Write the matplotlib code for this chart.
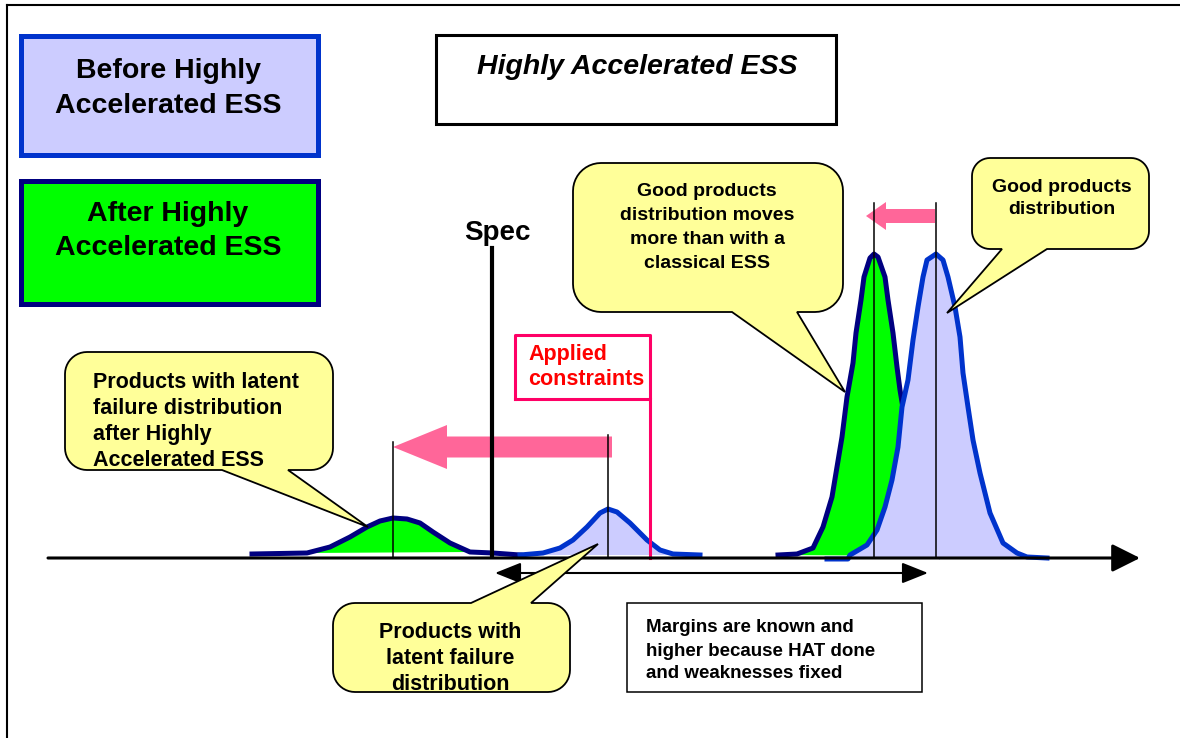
import numpy as np
import matplotlib
matplotlib.use("Agg")
import matplotlib.pyplot as plt
from matplotlib.patches import Rectangle, Polygon, FancyArrow

plt.rcParams['font.family'] = ['Liberation Sans', 'DejaVu Sans']

good_after_x = [778, 797, 813, 823, 832, 837, 842, 847, 853, 856, 861, 864, 870, 874,
                878, 885, 888, 893, 897, 900, 905, 915, 925, 940]
good_after_y = [555, 554, 548, 527, 497, 467, 437, 397, 363, 333, 300, 277, 258, 254,
                257, 277, 300, 333, 367, 390, 420, 480, 530, 556]

good_before_x = [827, 848, 850, 867, 877, 885, 892, 898, 902, 908, 913, 918, 923, 927,
                 936, 943, 948, 955, 960, 963, 968, 973, 980, 990, 1003, 1017, 1027, 1047]
good_before_y = [559, 559, 555, 545, 530, 507, 480, 447, 407, 380, 340, 307, 277, 260,
                 254, 260, 277, 307, 337, 373, 407, 440, 473, 513, 543, 553, 557, 558]

bad_after_x = [252, 307, 330, 350, 367, 380, 393, 407, 420, 433, 450, 470, 493, 520]
bad_after_y = [554, 553, 547, 537, 527, 521, 518, 519, 523, 532, 543, 552, 553, 555]

bad_before_x = [520, 543, 560, 573, 587, 600, 608, 617, 630, 647, 660, 673, 700]
bad_before_y = [555, 553, 548, 540, 527, 513, 509, 512, 523, 540, 550, 554, 555]

legend_labels = ["Before Highly\nAccelerated ESS", "After Highly\nAccelerated ESS"]
title_text = "Highly Accelerated ESS"
callout_texts = {
    'left': "Products with latent\nfailure distribution\nafter Highly\nAccelerated ESS",
    'bottom': "Products with\nlatent failure\ndistribution",
    'middle': "Good products\ndistribution moves\nmore than with a\nclassical ESS",
    'right': "Good products\ndistribution",
}
margin_text = "Margins are known and\nhigher because HAT done\nand weaknesses fixed"
constraint_text = "Applied\nconstraints"

LAV = '#CCCCFF'
BLUE = '#0033CC'
NAVY = '#000080'
GREEN = '#00FF00'
PINK = '#FF6699'
YEL = '#FFFF99'


def lines(ax, txt, x, y0, dy, ha='center', **kw):
    for i, s in enumerate(txt.split('\n')):
        ax.text(x, y0 + i * dy, s, ha=ha, va='center_baseline', **kw)


def callout(ax, x0, y0, x1, y1, r, side, b0, b1, tip):
    def arc(cx, cy, a0, a1):
        t = np.radians(np.linspace(a0, a1, 12))
        return list(zip(cx + r * np.cos(t), cy + r * np.sin(t)))
    pts = arc(x0 + r, y0 + r, 180, 270)
    if side == 'top':
        pts += [(b0, y0), tip, (b1, y0)]
    pts += arc(x1 - r, y0 + r, 270, 360)
    pts += arc(x1 - r, y1 - r, 0, 90)
    if side == 'bottom':
        pts += [(b1, y1), tip, (b0, y1)]
    pts += arc(x0 + r, y1 - r, 90, 180)
    ax.add_patch(Polygon(pts, closed=True, facecolor=YEL, edgecolor='black',
                         lw=1.3, zorder=6))


fig = plt.figure(figsize=(11.8, 7.38), dpi=100)
ax = fig.add_axes([0, 0, 1, 1])
ax.set_xlim(0, 1180)
ax.set_ylim(738, 0)
ax.axis('off')

# frame
ax.plot([7, 1180], [5, 5], color='black', lw=1.5)
ax.plot([7, 7], [5, 738], color='black', lw=1.5)

# legend boxes
ax.add_patch(Rectangle((20.5, 35.5), 297, 119, facecolor=LAV, edgecolor=BLUE, lw=3.6))
lines(ax, legend_labels[0], 168, 68, 35, fontsize=20.5, fontweight='bold')
ax.add_patch(Rectangle((20.5, 180.5), 297, 123, facecolor=GREEN, edgecolor=NAVY, lw=3.6))
lines(ax, legend_labels[1], 168, 211, 34, fontsize=20.5, fontweight='bold')

# title box
ax.add_patch(Rectangle((435.5, 34.5), 400, 89, facecolor='white', edgecolor='black', lw=2.2))
ax.text(637, 64, title_text, ha='center', va='center_baseline', fontsize=20.5,
        fontweight='bold', fontstyle='italic')

# good distributions
ax.fill(good_after_x, good_after_y, color=GREEN, lw=0, zorder=2)
ax.plot(good_after_x, good_after_y, color=NAVY, lw=3.6, zorder=2, solid_joinstyle='round')
ax.fill(good_before_x, good_before_y, color=LAV, lw=0, zorder=3)
ax.plot(good_before_x, good_before_y, color=BLUE, lw=3.6, zorder=3, solid_joinstyle='round')

# latent failure distributions
ax.fill(bad_after_x[1:-2], bad_after_y[1:-2], color=GREEN, lw=0, zorder=2)
ax.plot(bad_after_x, bad_after_y, color=NAVY, lw=3.6, zorder=2, solid_joinstyle='round')
ax.fill(bad_before_x, bad_before_y, color=LAV, lw=0, zorder=2)
ax.plot(bad_before_x, bad_before_y, color=BLUE, lw=3.6, zorder=2, solid_joinstyle='round')

# mean markers
for mx, top in [(393, 442), (608, 435), (874, 203), (936, 203)]:
    ax.plot([mx, mx], [top, 558], color='black', lw=1.1, zorder=4)

# applied constraints
ax.plot([515, 515, 650, 650, 515], [399, 335, 335, 399, 399], color='#FF0066', lw=2.2, zorder=4)
ax.plot([650, 650], [399, 558], color='#FF0066', lw=2.2, zorder=4)
lines(ax, constraint_text, 528, 352, 25, ha='left', fontsize=15.5, fontweight='bold',
      color='#FF0000', zorder=5)

# shift arrows
ax.add_patch(FancyArrow(612, 447, -219, 0, width=21, head_width=44, head_length=54,
                        length_includes_head=True, color=PINK, lw=0, zorder=3))
ax.add_patch(FancyArrow(935, 216, -69, 0, width=14, head_width=28, head_length=20,
                        length_includes_head=True, color=PINK, lw=0, zorder=3))

# spec line
ax.plot([492, 492], [248, 556], color='black', lw=3, zorder=5)
ax.text(497, 230, "Spec", ha='center', va='center_baseline', fontsize=20,
        fontweight='bold')

# axis
ax.annotate('', xy=(1140, 558), xytext=(48, 558), zorder=5,
            arrowprops=dict(arrowstyle='-|>,head_length=0.86,head_width=0.43',
                            mutation_scale=20, color='black', lw=2.2,
                            shrinkA=0, shrinkB=0))

# margin arrow + box
ax.annotate('', xy=(928, 573), xytext=(495, 573), zorder=5,
            arrowprops=dict(arrowstyle='<|-|>,head_length=0.8,head_width=0.32',
                            mutation_scale=20, color='black', lw=1.5,
                            shrinkA=0, shrinkB=0))
ax.add_patch(Rectangle((627, 603), 295, 89, facecolor='white', edgecolor='black', lw=1.1))
lines(ax, margin_text, 646, 626, 23, ha='left', fontsize=13.5, fontweight='bold')

# callouts
callout(ax, 65, 352, 333, 470, 22, 'bottom', 222, 288, (368, 527))
lines(ax, callout_texts['left'], 93, 380, 26, ha='left', fontsize=15.5,
      fontweight='bold', zorder=7)

callout(ax, 333, 603, 570, 692, 22, 'top', 471, 531, (598, 544))
lines(ax, callout_texts['bottom'], 450, 630, 26, fontsize=15.5, fontweight='bold', zorder=7)

callout(ax, 573, 163, 843, 312, 28, 'bottom', 732, 797, (845, 392))
lines(ax, callout_texts['middle'], 707, 189, 24, fontsize=14, fontweight='bold', zorder=7)

callout(ax, 972, 158, 1149, 249, 18, 'bottom', 1002, 1047, (947, 313))
lines(ax, callout_texts['right'], 1062, 185, 23, fontsize=14, fontweight='bold', zorder=7)

fig.savefig('out.png', dpi=100)
